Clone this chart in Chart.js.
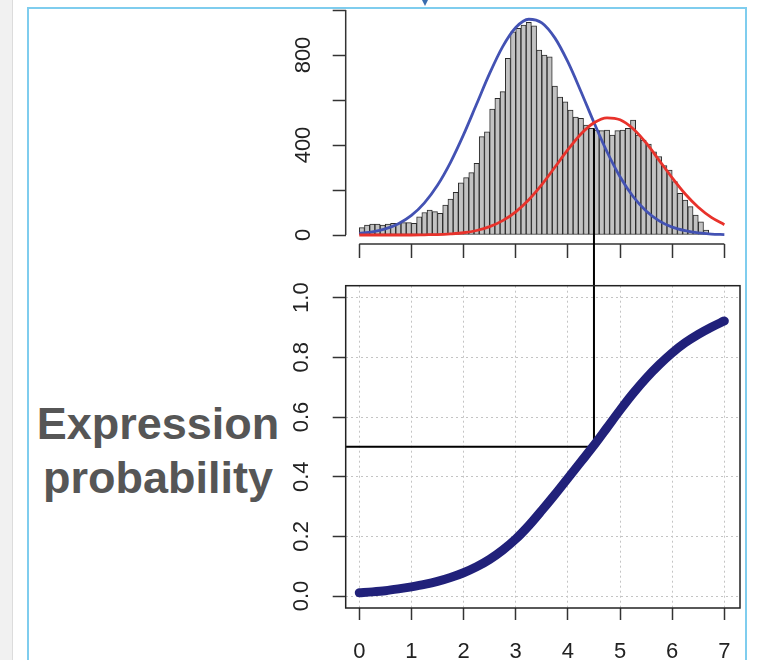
<!DOCTYPE html>
<html>
<head>
<meta charset="utf-8">
<script src="https://cdn.jsdelivr.net/npm/chart.js@4.4.1/dist/chart.umd.min.js"></script>
<style>
  html, body { margin: 0; padding: 0; background: #fff; }
  body { width: 757px; height: 660px; position: relative; overflow: hidden; font-family: "Liberation Sans", Arial, sans-serif; }
  .strip { position: absolute; left: 0; top: 0; width: 12px; height: 660px; background: #f1f1f1; border-right: 1px solid #dcdcdc; }
  .frame { position: absolute; left: 27px; top: 7px; width: 716px; height: 700px; border: 2px solid #7fcdee; border-bottom: none; }
  .mark { position: absolute; left: 422px; top: 0; width: 0; height: 0; border-left: 3px solid transparent; border-right: 3px solid transparent; border-top: 6px solid #3a6cae; }
  #ylab { position: absolute; left: 0; top: 397px; width: 316px; text-align: center; font: bold 45px/54px "Liberation Sans", Arial, sans-serif; color: #565656; }
  #histWrap { position: absolute; left: 0; top: 0; width: 757px; height: 262px; }
  #probWrap { position: absolute; left: 0; top: 262px; width: 757px; height: 398px; }
</style>
</head>
<body>
<div class="strip"></div>
<div class="frame"></div>
<div class="mark"></div>
<div id="ylab">Expression<br>probability</div>
<div id="histWrap"><canvas id="histChart" width="757" height="262"></canvas></div>
<div id="probWrap"><canvas id="probChart" width="757" height="398"></canvas></div>
<script>
// axis ticks
var xTicks = [0, 1, 2, 3, 4, 5, 6, 7];
var countTicks = [0, 200, 400, 600, 800, 1000];
var countLabels = [0, 400, 800];
var probTicks = [0, 0.2, 0.4, 0.6, 0.8, 1.0];

// histogram, bins of 0.1 starting at 0
var binWidth = 0.1;
var histCounts = [33, 44, 49, 49, 44, 49, 52, 52, 55, 55, 52,
  81, 100, 111, 104, 96, 133,
  160, 190, 232, 255, 277, 318, 437, 459,
  560, 607, 637, 785,
  903, 918, 933, 945, 930,
  822, 800, 792, 662,
  613, 592, 555, 524, 518, 489, 474,
  466, 464, 466, 444, 464, 466, 474, 511,
  444, 422, 404, 370, 348, 308, 289, 237, 185, 155, 126, 89, 59, 22];

// fitted curves + expression probability, sampled on the same x grid
var gridX = [0, 0.25, 0.5, 0.75, 1, 1.25, 1.5, 1.75, 2, 2.25, 2.5, 2.75, 3, 3.25, 3.5,
  3.75, 4, 4.25, 4.5, 4.75, 5, 5.25, 5.5, 5.75, 6, 6.25, 6.5, 6.75, 7];
var blueFit = [7, 14, 27, 50, 87, 143, 221, 323, 446, 582, 718, 837, 922, 959, 943,
  876, 769, 638, 500, 370, 259, 171, 107, 63, 35, 19, 9, 4, 2];
var redFit = [0, 0, 0, 0, 0, 1, 2, 5, 10, 20, 37, 64, 103, 157, 224,
  301, 379, 449, 499, 521, 512, 472, 409, 332, 254, 182, 123, 78, 46];
var probCurve = [0.011, 0.014, 0.018, 0.024, 0.031, 0.039, 0.049, 0.062, 0.078, 0.098, 0.123, 0.154, 0.191, 0.236, 0.287,
  0.340, 0.395, 0.450, 0.505, 0.564, 0.623, 0.679, 0.730, 0.775, 0.815, 0.849, 0.877, 0.901, 0.922];

// threshold marked by the black lines
var cutX = 4.5;
var cutProb = 0.5;
var cutCount = 474;

var fontFamily = '"Liberation Sans", Arial, sans-serif';

function rotatedLabels(chart, values, fmt, cx) {
  var ctx = chart.ctx;
  var y = chart.scales.y;
  ctx.save();
  ctx.fillStyle = '#222';
  ctx.font = '22px ' + fontFamily;
  ctx.textAlign = 'center';
  ctx.textBaseline = 'alphabetic';
  values.forEach(function(v) {
    var py = y.getPixelForValue(v);
    ctx.save();
    ctx.translate(cx + 8, py);
    ctx.rotate(-Math.PI / 2);
    ctx.fillText(fmt(v), 0, 0);
    ctx.restore();
  });
  ctx.restore();
}

var histPlugin = {
  id: 'histAxes',
  afterDatasetsDraw: function(chart) {
    var ctx = chart.ctx, x = chart.scales.x, y = chart.scales.y, area = chart.chartArea;
    ctx.save();
    ctx.strokeStyle = '#333';
    ctx.lineWidth = 1.5;
    ctx.beginPath();
    ctx.moveTo(area.left, y.getPixelForValue(countTicks[0]));
    ctx.lineTo(area.left, y.getPixelForValue(countTicks[countTicks.length - 1]));
    ctx.moveTo(x.getPixelForValue(xTicks[0]), area.bottom);
    ctx.lineTo(x.getPixelForValue(xTicks[xTicks.length - 1]), area.bottom);
    ctx.stroke();
    // threshold line runs down into the lower plot
    ctx.strokeStyle = '#000';
    ctx.lineWidth = 2;
    ctx.beginPath();
    ctx.moveTo(x.getPixelForValue(cutX), y.getPixelForValue(cutCount));
    ctx.lineTo(x.getPixelForValue(cutX), chart.height);
    ctx.stroke();
    ctx.restore();
  },
  afterDraw: function(chart) {
    rotatedLabels(chart, countLabels, function(v) { return String(v); }, 302);
  }
};

var probPlugin = {
  id: 'probAxes',
  beforeDatasetsDraw: function(chart) {
    var ctx = chart.ctx, x = chart.scales.x, y = chart.scales.y, area = chart.chartArea;
    var px = x.getPixelForValue(cutX), py = y.getPixelForValue(cutProb);
    ctx.save();
    ctx.strokeStyle = '#000';
    ctx.lineWidth = 2;
    ctx.beginPath();
    ctx.moveTo(area.left, py);
    ctx.lineTo(px, py);
    ctx.lineTo(px, 0);
    ctx.stroke();
    ctx.restore();
  },
  afterDraw: function(chart) {
    var ctx = chart.ctx, area = chart.chartArea;
    ctx.save();
    ctx.strokeStyle = '#222';
    ctx.lineWidth = 1.5;
    ctx.strokeRect(area.left, area.top, area.right - area.left, area.bottom - area.top);
    ctx.restore();
    rotatedLabels(chart, probTicks, function(v) { return v.toFixed(1); }, 300);
  }
};

function fixTicks(list) {
  return function(scale) {
    scale.ticks = list.map(function(v) { return {value: v}; });
  };
}

var histCtx = document.getElementById('histChart').getContext('2d');
var histChart = new Chart(histCtx, {
  type: 'bar',
  data: {
    datasets: [{
      type: 'line',
      label: 'fit low',
      data: gridX.map(function(x, i) { return {x: x, y: blueFit[i]}; }),
      borderColor: '#4352b3',
      borderWidth: 2.8,
      pointRadius: 0,
      cubicInterpolationMode: 'monotone',
      order: 1
    }, {
      type: 'line',
      label: 'fit high',
      data: gridX.map(function(x, i) { return {x: x, y: redFit[i]}; }),
      borderColor: '#e8322b',
      borderWidth: 2.8,
      pointRadius: 0,
      cubicInterpolationMode: 'monotone',
      order: 0
    }, {
      type: 'bar',
      label: 'counts',
      data: histCounts.map(function(c, i) { return {x: (i + 0.5) * binWidth, y: c}; }),
      backgroundColor: '#c2c2c2',
      borderColor: '#2b2b2b',
      borderWidth: 1,
      borderSkipped: false,
      barPercentage: 1,
      categoryPercentage: 1,
      order: 2
    }]
  },
  options: {
    responsive: false,
    animation: false,
    events: [],
    layout: { padding: { top: 1, right: 17, left: 0, bottom: 0 } },
    plugins: { legend: { display: false }, tooltip: { enabled: false } },
    scales: {
      x: {
        type: 'linear', min: -0.26, max: 7.30, offset: false,
        afterBuildTicks: fixTicks(xTicks),
        afterFit: function(s) { s.height = 18; },
        grid: { offset: false, drawOnChartArea: false, drawTicks: true, tickLength: 14, tickColor: '#333', tickWidth: 1.5 },
        border: { display: false },
        ticks: { display: false }
      },
      y: {
        type: 'linear', min: -40, max: 1040,
        afterBuildTicks: fixTicks(countTicks),
        afterFit: function(s) { s.width = 345.7; },
        grid: { drawOnChartArea: false, drawTicks: true, tickLength: 13, tickColor: '#333', tickWidth: 1.5 },
        border: { display: false },
        ticks: { display: false }
      }
    }
  },
  plugins: [histPlugin]
});

var probCtx = document.getElementById('probChart').getContext('2d');
var probChart = new Chart(probCtx, {
  type: 'line',
  data: {
    datasets: [{
      label: 'expression probability',
      data: gridX.map(function(x, i) { return {x: x, y: probCurve[i]}; }),
      borderColor: '#21217a',
      borderWidth: 9,
      borderCapStyle: 'round',
      borderJoinStyle: 'round',
      pointRadius: 0,
      cubicInterpolationMode: 'monotone'
    }]
  },
  options: {
    responsive: false,
    animation: false,
    events: [],
    layout: { padding: { top: 23.7, right: 17, left: 0, bottom: 0 } },
    plugins: { legend: { display: false }, tooltip: { enabled: false } },
    scales: {
      x: {
        type: 'linear', min: -0.26, max: 7.30, offset: false,
        afterBuildTicks: fixTicks(xTicks),
        afterFit: function(s) { s.height = 52; },
        grid: { offset: false, color: '#c4c4c4', lineWidth: 1, drawTicks: true, tickLength: 12, tickColor: '#333', tickWidth: 1.5 },
        border: { display: false, dash: [2, 3] },
        ticks: { color: '#222', font: { size: 22, family: fontFamily }, padding: 19, maxRotation: 0, autoSkip: false }
      },
      y: {
        type: 'linear', min: -0.04, max: 1.04,
        afterBuildTicks: fixTicks(probTicks),
        afterFit: function(s) { s.width = 345.7; },
        grid: { color: '#c4c4c4', lineWidth: 1, drawTicks: true, tickLength: 13, tickColor: '#333', tickWidth: 1.5 },
        border: { display: false, dash: [2, 3] },
        ticks: { display: false }
      }
    }
  },
  plugins: [probPlugin]
});
</script>
</body>
</html>
